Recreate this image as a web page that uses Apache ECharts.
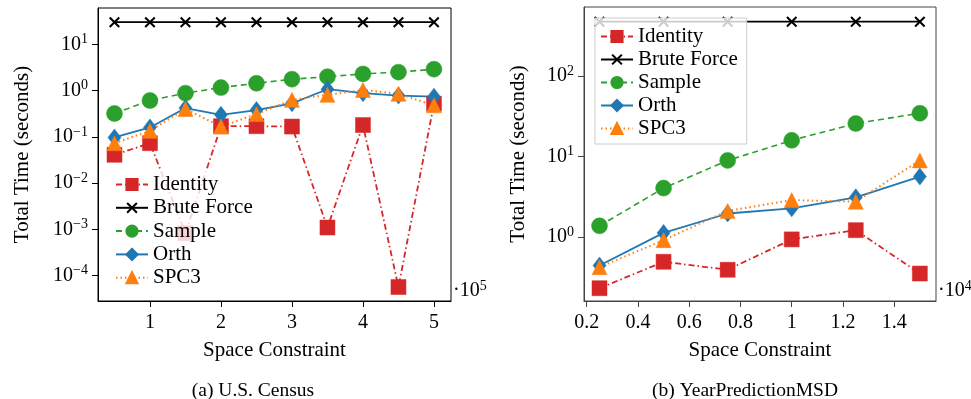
<!DOCTYPE html>
<html><head><meta charset="utf-8">
<script src="https://cdn.jsdelivr.net/npm/echarts@6/dist/echarts.min.js"></script>
<style>html,body{margin:0;padding:0;background:#fff}#c{width:971px;height:399px}</style>
</head><body><div id="c"></div><script>
// ---- data ----
const seriesNames = ['Identity', 'Brute Force', 'Sample', 'Orth', 'SPC3'];

const censusX = [0.5, 1, 1.5, 2, 2.5, 3, 3.5, 4, 4.5, 5];
const censusIdentity = [0.041, 0.073, 0.00083, 0.17, 0.17, 0.167, 0.0011, 0.18, 0.000057, 0.52];
const censusBrute = [30, 30, 30, 30, 30, 30, 30, 30, 30, 30];
const censusSample = [0.32, 0.61, 0.88, 1.16, 1.44, 1.76, 2.0, 2.29, 2.5, 2.9];
const censusOrth = [0.097, 0.16, 0.42, 0.30, 0.38, 0.53, 1.07, 0.88, 0.78, 0.74];
const censusSpc3 = [0.073, 0.135, 0.40, 0.167, 0.31, 0.63, 0.81, 1.03, 0.85, 0.48];

const msdX = [0.25, 0.5, 0.75, 1, 1.25, 1.5];
const msdIdentity = [0.23, 0.49, 0.39, 0.93, 1.21, 0.35];
const msdBrute = [470, 470, 470, 470, 470, 470];
const msdSample = [1.37, 4.03, 8.9, 15.8, 25.6, 34.3];
const msdOrth = [0.44, 1.12, 1.95, 2.26, 3.1, 5.6];
const msdSpc3 = [0.42, 0.91, 2.1, 2.86, 2.73, 8.9];

const censusXTicks = [1, 2, 3, 4, 5];
const censusYTicks = [1e-4, 1e-3, 1e-2, 1e-1, 1, 10];
const msdXTicks = [0.2, 0.4, 0.6, 0.8, 1.0, 1.2, 1.4];
const msdYTicks = [1, 10, 100];

const captions = ['(a) U.S. Census', '(b) YearPredictionMSD'];
const xAxisTitle = 'Space Constraint';
const yAxisTitle = 'Total Time (seconds)';

// ---- styling ----
const FONT = 'Liberation Serif';
const FS = 20;
const FN = 21;
const styles = {
  'Identity':    { color: '#d62728', symbol: 'rect', size: 15, line: [6, 3, 1.5, 3], width: 1.8, bw: 0.5 },
  'Brute Force': { color: '#000000', symbol: 'path://M1.3,0L5,3.7L8.7,0L10,1.3L6.3,5L10,8.7L8.7,10L5,6.3L1.3,10L0,8.7L3.7,5L0,1.3Z', size: 11, line: 'solid', width: 1.8, bw: 0 },
  'Sample':      { color: '#2ca02c', symbol: 'circle', size: 16, line: [6, 4], width: 1.6, bw: 0.5 },
  'Orth':        { color: '#1f77b4', symbol: 'diamond', size: [13, 17], line: 'solid', width: 1.8, bw: 0.5 },
  'SPC3':        { color: '#ff7f0e', symbol: 'triangle', size: 15, line: [1.5, 3], width: 2, bw: 0.5 }
};

function pairs(xs, ys) { return xs.map((x, i) => [x, ys[i]]); }
function mkSeries(name, xs, ys, idx) {
  const s = styles[name];
  return {
    name: name, type: 'line', xAxisIndex: idx, yAxisIndex: idx,
    data: pairs(xs, ys),
    symbol: s.symbol, symbolSize: s.size, showAllSymbol: true,
    lineStyle: { color: s.color, width: s.width, type: s.line },
    itemStyle: { color: s.color, borderColor: s.color, borderWidth: s.bw, opacity: 1 },
    emphasis: { disabled: true },
    animation: false
  };
}
function expLabel(v) {
  const e = Math.round(Math.log10(v));
  return '{b|10}{s|' + String(e).replace('-', '\u2212') + '}';
}
const richY = {
  b: { fontFamily: FONT, fontSize: FS, color: '#000', lineHeight: 24, verticalAlign: 'middle' },
  s: { fontFamily: FONT, fontSize: 14, color: '#000', verticalAlign: 'top', lineHeight: 14 }
};

function xAxisCfg(idx, min, max, ticks, axisColor) {
  return {
    type: 'value', gridIndex: idx, min: min, max: max,
    name: xAxisTitle, nameLocation: 'middle', nameGap: 39,
    nameTextStyle: { fontFamily: FONT, fontSize: FN, color: '#000' },
    axisLine: { show: true, lineStyle: { color: axisColor, width: 1 } },
    axisTick: { show: true, length: 6, lineStyle: { color: axisColor }, customValues: ticks },
    axisLabel: { customValues: ticks, fontFamily: FONT, fontSize: FS, color: '#000', margin: 12,
      formatter: v => String(+(+v).toFixed(1)) },
    splitLine: { show: false }
  };
}
function yAxisCfg(idx, min, max, ticks, axisColor, gap) {
  return {
    type: 'log', gridIndex: idx, min: min, max: max, logBase: 10,
    name: yAxisTitle, nameLocation: 'middle', nameGap: gap, nameRotate: 90,
    nameTextStyle: { fontFamily: FONT, fontSize: FN, color: '#000' },
    axisLine: { show: true, lineStyle: { color: axisColor, width: 1 } },
    axisTick: { show: true, length: 6, lineStyle: { color: axisColor }, customValues: ticks },
    axisLabel: { customValues: ticks, margin: 10, formatter: expLabel, rich: richY },
    splitLine: { show: false }, minorTick: { show: false }
  };
}

const chart = echarts.init(document.getElementById('c'), null, { renderer: 'canvas' });
const option = {
  backgroundColor: '#fff',
  animation: false,
  title: [
    { text: captions[0], left: 248, top: 376, textAlign: 'center',
      textStyle: { fontFamily: FONT, fontSize: 19.5, fontWeight: 'normal', color: '#000' } },
    { text: captions[1], left: 740, top: 376, textAlign: 'center',
      textStyle: { fontFamily: FONT, fontSize: 19.5, fontWeight: 'normal', color: '#000' } }
  ],
  grid: [
    { left: 98, top: 8, width: 353, height: 293, show: true, borderColor: '#000', borderWidth: 1, backgroundColor: 'transparent' },
    { left: 584, top: 7, width: 352, height: 294, show: true, borderColor: '#444', borderWidth: 1, backgroundColor: 'transparent' }
  ],
  xAxis: [
    xAxisCfg(0, 0.268, 5.24, censusXTicks, '#000'),
    xAxisCfg(1, 0.1895, 1.563, msdXTicks, '#444')
  ],
  yAxis: [
    yAxisCfg(0, Math.pow(10, -4.546), Math.pow(10, 1.784), censusYTicks, '#000', 65),
    yAxisCfg(1, Math.pow(10, -0.797), Math.pow(10, 2.855), msdYTicks, '#444', 55)
  ],
  legend: [
    { orient: 'vertical', left: 111, top: 170, padding: [4, 8, 4, 4], itemGap: 2.3,
      itemWidth: 32, itemHeight: 14, backgroundColor: 'rgba(255,255,255,0.8)', borderWidth: 0,
      textStyle: { fontFamily: FONT, fontSize: FN, color: '#000' },
      data: seriesNames, selectedMode: false, z: 10 },
    { orient: 'vertical', left: 595, top: 18, padding: [8, 9, 5, 5], itemGap: 2,
      itemWidth: 32, itemHeight: 14, backgroundColor: 'rgba(255,255,255,0.8)', borderColor: '#ccc', borderWidth: 1,
      textStyle: { fontFamily: FONT, fontSize: FN, color: '#000' },
      data: seriesNames, selectedMode: false, z: 10 }
  ],
  graphic: [
    { type: 'text', left: 453, top: 279, style: { text: '\u00b7{b|10}{s|5}', font: FS + 'px ' + FONT, fill: '#000', rich: richY } },
    { type: 'text', left: 938, top: 279, style: { text: '\u00b7{b|10}{s|4}', font: FS + 'px ' + FONT, fill: '#000', rich: richY } }
  ],
  series: [
    mkSeries('Identity', censusX, censusIdentity, 0),
    mkSeries('Brute Force', censusX, censusBrute, 0),
    mkSeries('Sample', censusX, censusSample, 0),
    mkSeries('Orth', censusX, censusOrth, 0),
    mkSeries('SPC3', censusX, censusSpc3, 0),
    mkSeries('Identity', msdX, msdIdentity, 1),
    mkSeries('Brute Force', msdX, msdBrute, 1),
    mkSeries('Sample', msdX, msdSample, 1),
    mkSeries('Orth', msdX, msdOrth, 1),
    mkSeries('SPC3', msdX, msdSpc3, 1)
  ]
};
chart.setOption(option);
</script></body></html>
